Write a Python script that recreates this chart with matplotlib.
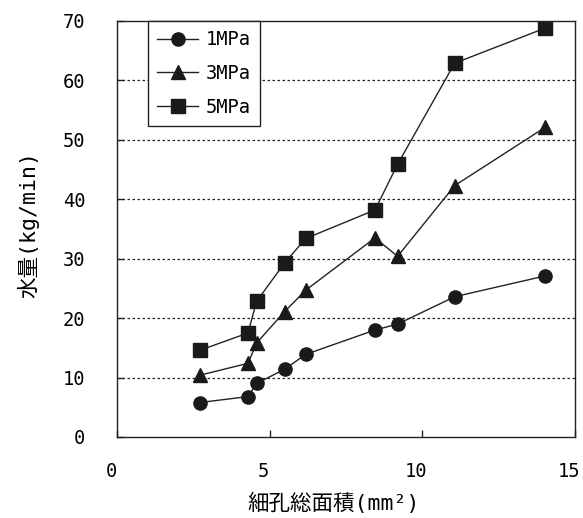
import matplotlib
matplotlib.use("Agg")
import matplotlib.pyplot as plt
from matplotlib.transforms import ScaledTranslation

plt.rcParams['font.family'] = ['DejaVu Sans Mono', 'Noto Sans CJK JP']

# data
area = [2.72, 4.29, 4.57, 5.49, 6.18, 8.45, 9.19, 11.06, 14.02]
flow_1mpa = [5.8, 6.8, 9.0, 11.4, 13.9, 18.0, 19.0, 23.6, 27.1]
flow_3mpa = [10.4, 12.4, 15.8, 21.1, 24.7, 33.5, 30.4, 42.3, 52.1]
flow_5mpa = [14.6, 17.5, 22.8, 29.3, 33.4, 38.2, 45.9, 62.9, 68.8]
labels = ["1MPa", "3MPa", "5MPa"]
markers = ["o", "^", "s"]

fig = plt.figure(figsize=(5.83, 5.18), dpi=100)
ax = fig.add_axes([0.2007, 0.1564, 0.7856, 0.8031])

for ys, lab, m in zip([flow_1mpa, flow_3mpa, flow_5mpa], labels, markers):
    ax.plot(area, ys, color="#222222", lw=1.0, marker=m, markersize=9.5,
            markerfacecolor="#1a1a1a", markeredgecolor="#1a1a1a", label=lab)

ax.set_xlim(0, 15)
ax.set_ylim(0, 70)
ax.set_xticks([0, 5, 10, 15])
ax.set_yticks(range(0, 71, 10))
for y in range(10, 70, 10):
    ax.axhline(y, color="#222222", lw=0.9, ls=(0, (2, 2)), zorder=0)

ax.tick_params(direction="in", length=5, width=1.0, color="#222222", labelsize=13.5)
ax.tick_params(axis="x", pad=18)
ax.tick_params(axis="y", pad=23)
for lbl in ax.get_xticklabels():
    lbl.set_transform(lbl.get_transform() + ScaledTranslation(-0.06, 0, fig.dpi_scale_trans))
for s in ax.spines.values():
    s.set_linewidth(1.0)
    s.set_color("#222222")

ax.set_xlabel("細孔総面積(mm²)", fontsize=15.5)
ax.xaxis.set_label_coords(0.472, -0.135)
ax.set_ylabel("水量(kg/min)", fontsize=15.5)
ax.yaxis.set_label_coords(-0.17, 0.51)

leg = ax.legend(loc="upper left", bbox_to_anchor=(0.067, 1.0), borderaxespad=0,
                fontsize=13.5, fancybox=False, framealpha=1, edgecolor="#222222",
                handlelength=2.2, handletextpad=0.4, labelspacing=0.78, borderpad=0.5)
leg.get_frame().set_linewidth(1.0)

fig.savefig("out.png", dpi=100)
